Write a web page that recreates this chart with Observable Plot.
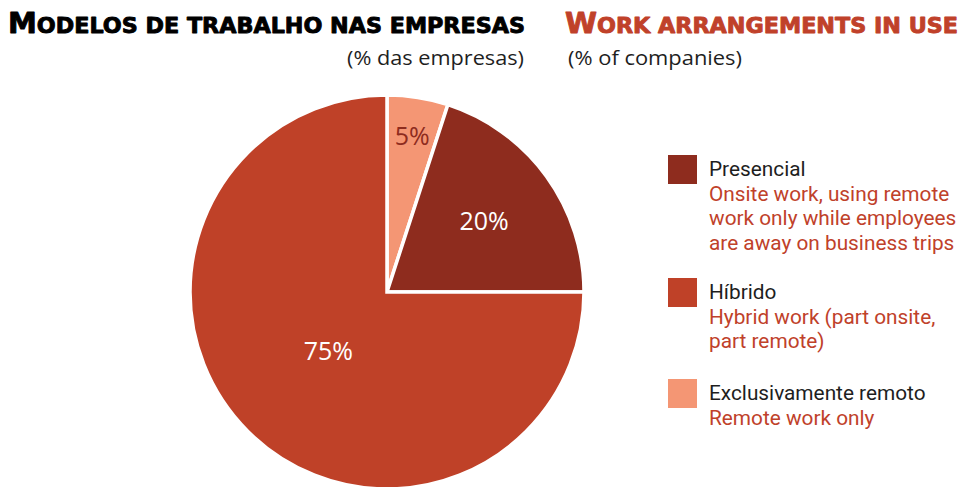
<!DOCTYPE html>
<html><head><meta charset="utf-8">
<script src="https://cdn.jsdelivr.net/npm/d3@7"></script>
<script src="https://cdn.jsdelivr.net/npm/@observablehq/plot@0.6"></script>
<style>
body{margin:0;background:#fff;}
#wrap{position:relative;width:962px;height:487px;overflow:hidden;font-family:"Open Sans",sans-serif;}
#head{height:80px;}
#overlay{position:absolute;left:0;top:0;pointer-events:none;}
</style></head><body>
<div id="wrap"><div id="head"></div><div id="chart"></div></div>
<script>
// ---- data ----
const categories = ["Exclusivamente remoto", "Presencial", "Híbrido"];
const values = [5, 20, 75];
const valueLabels = ["5%", "20%", "75%"];
const colors = ["#f49674", "#8e2c1e", "#bf4128"];
const legendOrder = ["Presencial", "Híbrido", "Exclusivamente remoto"];
const descriptions = {
  "Presencial": ["Onsite work, using remote", "work only while employees", "are away on business trips"],
  "Híbrido": ["Hybrid work (part onsite,", "part remote)"],
  "Exclusivamente remoto": ["Remote work only"]
};
const titlePt = "Modelos de trabalho nas empresas";
const titleEn = "Work arrangements in use";
const subPt = "(% das empresas)";
const subEn = "(% of companies)";

const RED = "#c0412a", INK = "#1e1e1e", DARK = "#8e2c1e";
const labelRadius = [0.80, 0.606, 0.425];

const table = categories.map((c, i) => ({key: c, value: values[i], label: valueLabels[i]}));
const arcs = d3.pie().sort(null).value(d => d.value)(table);
const slices = arcs.map((a, i) => {
  const mid = (a.startAngle + a.endAngle) / 2;
  return {...a.data, startAngle: a.startAngle, endAngle: a.endAngle,
    lx: labelRadius[i] * Math.sin(mid), ly: labelRadius[i] * Math.cos(mid)};
});

function pieMark(index, scales) {
  const cx = scales.x(0), cy = scales.y(0), r = scales.x(1) - scales.x(0);
  const color = scales.color || (k => colors[categories.indexOf(k)]);
  const arc = d3.arc().innerRadius(0).outerRadius(r);
  const g = d3.create("svg:g").attr("transform", `translate(${cx},${cy})`);
  g.selectAll("path").data(slices).join("path")
    .attr("d", d => arc(d))
    .attr("fill", d => color(d.key))
    .attr("stroke", "white").attr("stroke-width", 3.5).attr("stroke-linejoin", "miter");
  return g.node();
}

const chart = Plot.plot({
  width: 962, height: 407, margin: 0,
  style: {background: "transparent", overflow: "visible"},
  x: {domain: [-1, 1], range: [190, 584], axis: null},
  y: {domain: [-1, 1], range: [409, 15], axis: null},
  color: {domain: categories, range: colors},
  marks: [
    Plot.dot(slices, {x: "lx", y: "ly", fill: "key", r: 0}),
    pieMark,
    Plot.text(slices.filter(d => d.key !== "Exclusivamente remoto"), {x: "lx", y: "ly", text: "label", fill: "white", fontSize: 25, fontFamily: "Open Sans", lineAnchor: "middle"}),
    Plot.text(slices.filter(d => d.key === "Exclusivamente remoto"), {x: "lx", y: "ly", text: "label", fill: DARK, fontSize: 25, fontFamily: "Open Sans", lineAnchor: "middle"})
  ]
});
document.getElementById("chart").appendChild(chart);

// ---- titles & legend overlay ----
const svg = d3.select("#wrap").append("svg").attr("id", "overlay").attr("width", 962).attr("height", 487);
function txt(s, x, y, opts) {
  const t = svg.append("text").attr("x", x).attr("y", y).text(s)
    .attr("font-family", opts.family || "Open Sans").attr("font-size", opts.size)
    .attr("fill", opts.fill || INK).attr("text-anchor", opts.anchor || "start");
  if (opts.width) t.attr("textLength", opts.width).attr("lengthAdjust", "spacingAndGlyphs");
  return t;
}
// heavy small-caps title: capitals full size, other letters as reduced capitals
function capsTitle(s, x, y, width, fill) {
  const t = svg.append("text").attr("x", x).attr("y", y)
    .attr("font-family", "DejaVu Sans").attr("font-weight", 700)
    .attr("fill", fill).attr("stroke", fill).attr("stroke-width", 0.9).attr("stroke-linejoin", "round")
    .attr("textLength", width).attr("lengthAdjust", "spacingAndGlyphs");
  const parts = s.match(/([A-ZÁÉÍÓÚ]+|[^A-ZÁÉÍÓÚ]+)/g);
  parts.forEach(p => {
    const big = /[A-ZÁÉÍÓÚ]/.test(p[0]);
    t.append("tspan").attr("font-size", big ? 28 : 21.5).text(big ? p : p.toUpperCase());
  });
  return t;
}
capsTitle(titlePt, 8, 33, 517, "#000");
capsTitle(titleEn, 565, 33, 393, RED);
txt(subPt, 347, 65, {size: 19.5, width: 177});
txt(subEn, 568, 65, {size: 19.5, width: 174});

const sqTops = [155, 278, 379];
const lh = 24.5;
legendOrder.forEach((k, i) => {
  const top = sqTops[i];
  svg.append("rect").attr("x", 668).attr("y", top).attr("width", 29).attr("height", 29)
    .attr("fill", colors[categories.indexOf(k)]);
  const base = top + 21;
  const t = svg.append("text").attr("font-family", "Roboto").attr("font-size", 20.8);
  t.append("tspan").attr("x", 709).attr("y", base).attr("fill", INK).text(k);
  descriptions[k].forEach((line, j) =>
    t.append("tspan").attr("x", 709).attr("y", base + lh * (j + 1)).attr("fill", RED).text(line));
});
</script>
</body></html>
